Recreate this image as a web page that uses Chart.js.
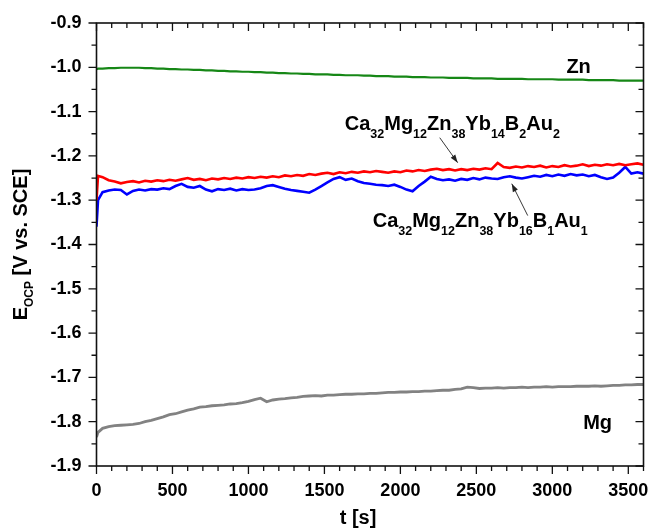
<!DOCTYPE html>
<html>
<head>
<meta charset="utf-8">
<script src="https://cdn.jsdelivr.net/npm/chart.js@4.4.1/dist/chart.umd.min.js"></script>
<style>
  html, body { margin: 0; padding: 0; background: #fff; }
</style>
</head>
<body>
<canvas id="ocpChart" width="654" height="528"></canvas>
<script>
// time axis [s]
const timeS = [
  0, 10, 40, 80, 120, 160, 200, 240, 280, 320,
  360, 400, 440, 480, 520, 560, 600, 640, 680, 720,
  760, 800, 840, 880, 920, 960, 1000, 1040, 1080, 1120,
  1160, 1200, 1240, 1280, 1320, 1360, 1400, 1440, 1480, 1520,
  1560, 1600, 1640, 1680, 1720, 1760, 1800, 1840, 1880, 1920,
  1960, 2000, 2040, 2080, 2120, 2160, 2200, 2240, 2280, 2320,
  2360, 2400, 2440, 2480, 2520, 2560, 2600, 2640, 2680, 2720,
  2760, 2800, 2840, 2880, 2920, 2960, 3000, 3040, 3080, 3120,
  3160, 3200, 3240, 3280, 3320, 3360, 3400, 3440, 3480, 3520,
  3560, 3600
];

// E_OCP [V vs. SCE]
const eZn = [
  -1.004, -1.003, -1.003, -1.002, -1.002, -1.001, -1.001, -1.001, -1.001, -1.002,
  -1.002, -1.003, -1.003, -1.004, -1.004, -1.005, -1.005, -1.006, -1.006, -1.007,
  -1.007, -1.008, -1.008, -1.009, -1.009, -1.010, -1.010, -1.011, -1.011, -1.012,
  -1.012, -1.013, -1.013, -1.014, -1.014, -1.015, -1.015, -1.016, -1.016, -1.016,
  -1.017, -1.017, -1.018, -1.018, -1.018, -1.019, -1.019, -1.020, -1.020, -1.020,
  -1.021, -1.021, -1.021, -1.022, -1.022, -1.022, -1.023, -1.023, -1.023, -1.024,
  -1.024, -1.024, -1.024, -1.025, -1.025, -1.025, -1.025, -1.026, -1.026, -1.026,
  -1.026, -1.026, -1.027, -1.027, -1.027, -1.027, -1.027, -1.028, -1.028, -1.028,
  -1.028, -1.028, -1.029, -1.029, -1.029, -1.029, -1.029, -1.030, -1.030, -1.030,
  -1.030, -1.030
];
const eB2Au2 = [
  -1.300, -1.245, -1.248, -1.255, -1.258, -1.262, -1.259, -1.257, -1.260, -1.256,
  -1.258, -1.255, -1.257, -1.254, -1.256, -1.253, -1.250, -1.254, -1.252, -1.255,
  -1.251, -1.253, -1.250, -1.252, -1.249, -1.251, -1.248, -1.250, -1.247, -1.249,
  -1.246, -1.248, -1.244, -1.246, -1.243, -1.245, -1.241, -1.243, -1.240, -1.238,
  -1.241, -1.237, -1.239, -1.236, -1.238, -1.235, -1.237, -1.234, -1.236, -1.238,
  -1.235, -1.237, -1.233, -1.235, -1.232, -1.234, -1.231, -1.229, -1.232, -1.230,
  -1.233, -1.230, -1.232, -1.229, -1.231, -1.228, -1.230, -1.216, -1.225, -1.227,
  -1.224, -1.226, -1.223, -1.225, -1.222, -1.226, -1.223, -1.225, -1.221, -1.224,
  -1.222, -1.219, -1.223, -1.220, -1.222, -1.219, -1.221, -1.218, -1.221, -1.219,
  -1.217, -1.220
];
const eB1Au1 = [
  -1.360, -1.300, -1.282, -1.278, -1.276, -1.277, -1.287, -1.279, -1.276, -1.278,
  -1.275, -1.276, -1.273, -1.275, -1.268, -1.263, -1.270, -1.272, -1.268, -1.276,
  -1.280, -1.275, -1.277, -1.274, -1.278, -1.275, -1.277, -1.276, -1.273, -1.268,
  -1.266, -1.270, -1.274, -1.277, -1.279, -1.281, -1.283, -1.276, -1.268, -1.260,
  -1.252, -1.248, -1.254, -1.251, -1.257, -1.261, -1.263, -1.265, -1.266, -1.268,
  -1.265, -1.270, -1.276, -1.280, -1.268, -1.258, -1.247, -1.252, -1.255, -1.253,
  -1.256, -1.252, -1.254, -1.250, -1.253, -1.249, -1.251, -1.252, -1.248, -1.246,
  -1.249, -1.251, -1.248, -1.245, -1.247, -1.243, -1.246, -1.242, -1.245, -1.241,
  -1.244, -1.242, -1.246, -1.243, -1.248, -1.252, -1.249, -1.238, -1.225, -1.240,
  -1.237, -1.240
];
const eMg = [
  -1.835, -1.824, -1.815, -1.811, -1.809, -1.808, -1.807, -1.806, -1.804, -1.800,
  -1.797, -1.793, -1.789, -1.784, -1.782, -1.778, -1.774, -1.771, -1.767, -1.766,
  -1.764, -1.763, -1.762, -1.760, -1.759, -1.757, -1.754, -1.750, -1.747, -1.755,
  -1.751, -1.749, -1.748, -1.746, -1.745, -1.743, -1.742, -1.741, -1.742, -1.740,
  -1.740, -1.739, -1.738, -1.738, -1.737, -1.737, -1.736, -1.736, -1.735, -1.734,
  -1.734, -1.733, -1.733, -1.732, -1.732, -1.731, -1.731, -1.730, -1.729, -1.729,
  -1.727, -1.726, -1.722, -1.723, -1.725, -1.724, -1.724, -1.723, -1.724, -1.723,
  -1.723, -1.722, -1.723, -1.722, -1.722, -1.721, -1.722, -1.721, -1.721, -1.721,
  -1.720, -1.720, -1.720, -1.719, -1.720, -1.719, -1.718, -1.718, -1.717, -1.717,
  -1.716, -1.716
];

const xTicks = [0, 500, 1000, 1500, 2000, 2500, 3000, 3500];
const yTicks = [-0.9, -1.0, -1.1, -1.2, -1.3, -1.4, -1.5, -1.6, -1.7, -1.8, -1.9];

// labels written on the plot, placed in data coordinates
const runsB2Au2 = [['Ca', 0], ['32', 1], ['Mg', 0], ['12', 1], ['Zn', 0], ['38', 1], ['Yb', 0], ['14', 1], ['B', 0], ['2', 1], ['Au', 0], ['2', 1]];
const runsB1Au1 = [['Ca', 0], ['32', 1], ['Mg', 0], ['12', 1], ['Zn', 0], ['38', 1], ['Yb', 0], ['16', 1], ['B', 0], ['1', 1], ['Au', 0], ['1', 1]];

const FONT = '"Liberation Sans", Arial, sans-serif';

function toXY(vals) {
  return timeS.map((t, i) => ({ x: t, y: vals[i] }));
}

// draws text with subscripts; runs = [[text, isSub], ...]
function drawRuns(ctx, runs, x, y, align, size, subSize, subShift) {
  const mainFont = 'bold ' + size + 'px ' + FONT;
  const subFont = 'bold ' + subSize + 'px ' + FONT;
  let total = 0;
  runs.forEach(r => {
    ctx.font = r[1] ? subFont : mainFont;
    total += ctx.measureText(r[0]).width;
  });
  let cx = align === 'center' ? x - total / 2 : x;
  ctx.textAlign = 'left';
  ctx.textBaseline = 'alphabetic';
  runs.forEach(r => {
    ctx.font = r[1] ? subFont : mainFont;
    ctx.fillText(r[0], cx, y + (r[1] ? subShift : 0));
    cx += ctx.measureText(r[0]).width;
  });
}

function arrow(ctx, x0, y0, x1, y1) {
  const ang = Math.atan2(y1 - y0, x1 - x0);
  ctx.beginPath();
  ctx.moveTo(x0, y0);
  ctx.lineTo(x1, y1);
  ctx.stroke();
  ctx.beginPath();
  ctx.moveTo(x1, y1);
  ctx.lineTo(x1 - 8 * Math.cos(ang) + 2.8 * Math.sin(ang), y1 - 8 * Math.sin(ang) - 2.8 * Math.cos(ang));
  ctx.lineTo(x1 - 8 * Math.cos(ang) - 2.8 * Math.sin(ang), y1 - 8 * Math.sin(ang) + 2.8 * Math.cos(ang));
  ctx.closePath();
  ctx.fill();
}

const framePlugin = {
  id: 'framePlugin',
  afterDatasetsDraw(chart) {
    const { ctx, chartArea: a, scales: { x, y } } = chart;
    ctx.save();
    ctx.strokeStyle = '#111';
    ctx.fillStyle = '#111';

    // box
    ctx.lineWidth = 1.6;
    ctx.strokeRect(a.left, a.top, a.right - a.left, a.bottom - a.top);

    // ticks: bottom/left outward, top/right inward
    ctx.lineWidth = 1.3;
    ctx.beginPath();
    for (let t = 0; t <= 3600; t += 100) {
      const px = x.getPixelForValue(t);
      const len = t % 500 === 0 ? 8 : 5;
      ctx.moveTo(px, a.bottom); ctx.lineTo(px, a.bottom + len);
      ctx.moveTo(px, a.top); ctx.lineTo(px, a.top + len);
    }
    for (let k = 0; k <= 20; k++) {
      const py = y.getPixelForValue(-0.9 - k * 0.05);
      const len = k % 2 === 0 ? 8 : 5;
      ctx.moveTo(a.left, py); ctx.lineTo(a.left - len, py);
      ctx.moveTo(a.right, py); ctx.lineTo(a.right - len, py);
    }
    ctx.stroke();

    // curve labels
    ctx.fillStyle = '#000';
    drawRuns(ctx, [['Zn', 0]], x.getPixelForValue(3173), y.getPixelForValue(-0.9975) + 7, 'center', 20, 12.5, 9);
    drawRuns(ctx, [['Mg', 0]], x.getPixelForValue(3298), y.getPixelForValue(-1.80) + 7, 'center', 20, 12.5, 9);
    drawRuns(ctx, runsB2Au2, x.getPixelForValue(1634), y.getPixelForValue(-1.1409), 'left', 20, 12.5, 8);
    drawRuns(ctx, runsB1Au1, x.getPixelForValue(1818), y.getPixelForValue(-1.3598), 'left', 20, 12.5, 8);

    // arrows
    ctx.strokeStyle = '#222';
    ctx.fillStyle = '#222';
    ctx.lineWidth = 0.9;
    arrow(ctx, x.getPixelForValue(2259), y.getPixelForValue(-1.1589), x.getPixelForValue(2377), y.getPixelForValue(-1.2153));
    arrow(ctx, x.getPixelForValue(2838), y.getPixelForValue(-1.3347), x.getPixelForValue(2733), y.getPixelForValue(-1.2628));

    // axis titles
    ctx.fillStyle = '#000';
    drawRuns(ctx, [['t [s]', 0]], (a.left + a.right) / 2 - 12, 524, 'center', 20, 12, 0);
    ctx.translate(27, (a.top + a.bottom) / 2);
    ctx.rotate(-Math.PI / 2);
    drawRuns(ctx, [['E', 0], ['OCP', 1], [' [V vs. SCE]', 0]], 0, 0, 'center', 20, 12, 6);
    ctx.restore();
  }
};

const ctx = document.getElementById('ocpChart').getContext('2d');
const ocpChart = new Chart(ctx, {
  type: 'line',
  data: {
    datasets: [
      { label: 'Zn', data: toXY(eZn), borderColor: 'rgb(22, 135, 22)', borderWidth: 2.2 },
      { label: 'Ca32Mg12Zn38Yb14B2Au2', data: toXY(eB2Au2), borderColor: 'rgb(255, 0, 0)', borderWidth: 2.6 },
      { label: 'Ca32Mg12Zn38Yb16B1Au1', data: toXY(eB1Au1), borderColor: 'rgb(0, 0, 255)', borderWidth: 2.6 },
      { label: 'Mg', data: toXY(eMg), borderColor: 'rgb(130, 130, 130)', borderWidth: 2.8 }
    ]
  },
  options: {
    responsive: false,
    animation: false,
    layout: { padding: { top: 23, right: 10.5, left: 0, bottom: 0 } },
    elements: { point: { radius: 0 }, line: { tension: 0, fill: false } },
    plugins: { legend: { display: false }, tooltip: { enabled: false } },
    scales: {
      x: {
        type: 'linear',
        min: 0,
        max: 3600,
        grid: { display: false, drawTicks: false },
        border: { display: false },
        afterBuildTicks: s => { s.ticks = xTicks.map(v => ({ value: v })); },
        afterFit: s => { s.height = 62; s.paddingLeft = 0; s.paddingRight = 0; },
        ticks: {
          padding: 14,
          color: '#000',
          maxRotation: 0,
          autoSkip: false,
          font: { family: FONT, size: 18, weight: 'bold' },
          callback: v => String(v)
        }
      },
      y: {
        type: 'linear',
        min: -1.9,
        max: -0.9,
        grid: { display: false, drawTicks: false },
        border: { display: false },
        afterBuildTicks: s => { s.ticks = yTicks.map(v => ({ value: v })); },
        afterFit: s => { s.width = 96.5; s.paddingTop = 0; s.paddingBottom = 0; },
        ticks: {
          padding: 15,
          color: '#000',
          autoSkip: false,
          font: { family: FONT, size: 18, weight: 'bold' },
          callback: v => v.toFixed(1)
        }
      }
    }
  },
  plugins: [framePlugin]
});
</script>
</body>
</html>
